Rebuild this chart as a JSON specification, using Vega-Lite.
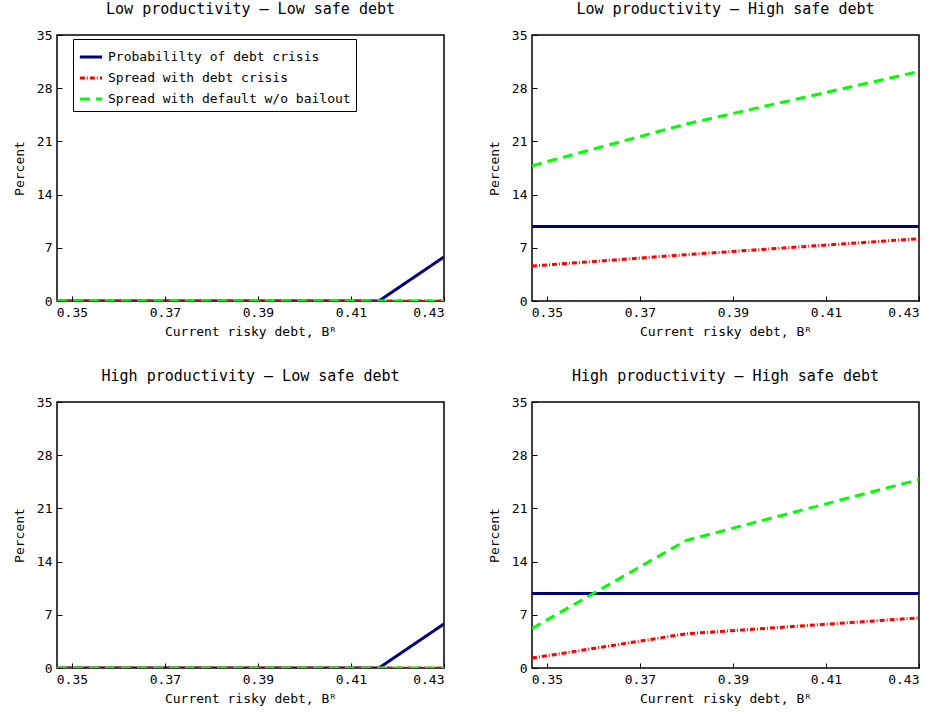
{
"$schema":"https://vega.github.io/schema/vega-lite/v6.json",
"padding":{"left":12,"top":1,"right":5,"bottom":5},
"background":"white",
"config":{"font":"DejaVu Sans Mono","view":{"stroke":"black","strokeWidth":1.5},
 "title":{"fontSize":15,"fontWeight":"normal","font":"DejaVu Sans Mono","offset":12},
 "axis":{"labelFont":"DejaVu Sans Mono","titleFont":"DejaVu Sans Mono","labelFontSize":13,"titleFontSize":13,"titleFontWeight":"normal","grid":false,"domain":false,"tickColor":"black","ticks":true,"tickSize":-5,"labelPadding":10,"labelColor":"black","titleColor":"black"}},
"datasets":{"d":[
{"p":"LL","s":"Probabililty of debt crisis","x":0.3468,"y":0},{"p":"LL","s":"Probabililty of debt crisis","x":0.416,"y":0},{"p":"LL","s":"Probabililty of debt crisis","x":0.43,"y":5.8},
{"p":"LL","s":"Spread with debt crisis","x":0.3468,"y":0},{"p":"LL","s":"Spread with debt crisis","x":0.43,"y":0},
{"p":"LL","s":"Spread with default w/o bailout","x":0.3468,"y":0},{"p":"LL","s":"Spread with default w/o bailout","x":0.43,"y":0},
{"p":"LH","s":"Probabililty of debt crisis","x":0.3468,"y":9.8},{"p":"LH","s":"Probabililty of debt crisis","x":0.43,"y":9.8},
{"p":"LH","s":"Spread with debt crisis","x":0.3468,"y":4.6},{"p":"LH","s":"Spread with debt crisis","x":0.38,"y":6.1},{"p":"LH","s":"Spread with debt crisis","x":0.43,"y":8.2},
{"p":"LH","s":"Spread with default w/o bailout","x":0.3468,"y":17.8},{"p":"LH","s":"Spread with default w/o bailout","x":0.38,"y":23.3},{"p":"LH","s":"Spread with default w/o bailout","x":0.43,"y":30.2},
{"p":"HL","s":"Probabililty of debt crisis","x":0.3468,"y":0},{"p":"HL","s":"Probabililty of debt crisis","x":0.416,"y":0},{"p":"HL","s":"Probabililty of debt crisis","x":0.43,"y":5.8},
{"p":"HL","s":"Spread with debt crisis","x":0.3468,"y":0},{"p":"HL","s":"Spread with debt crisis","x":0.43,"y":0},
{"p":"HL","s":"Spread with default w/o bailout","x":0.3468,"y":0},{"p":"HL","s":"Spread with default w/o bailout","x":0.43,"y":0},
{"p":"HH","s":"Probabililty of debt crisis","x":0.3468,"y":9.8},{"p":"HH","s":"Probabililty of debt crisis","x":0.43,"y":9.8},
{"p":"HH","s":"Spread with debt crisis","x":0.3468,"y":1.3},{"p":"HH","s":"Spread with debt crisis","x":0.38,"y":4.5},{"p":"HH","s":"Spread with debt crisis","x":0.43,"y":6.6},
{"p":"HH","s":"Spread with default w/o bailout","x":0.3468,"y":5.2},{"p":"HH","s":"Spread with default w/o bailout","x":0.38,"y":16.8},{"p":"HH","s":"Spread with default w/o bailout","x":0.43,"y":24.8}
]},
"spacing":29,
"vconcat":[
{"spacing":41,"hconcat":[
 {"title":"Low productivity – Low safe debt","width":387,"height":266,"data":{"name":"d"},"transform":[{"filter":"datum.p==='LL'"}],"mark":{"type":"line","strokeWidth":3,"clip":true},
  "encoding":{"x":{"field":"x","type":"quantitative","scale":{"domain":[0.3468,0.43],"nice":false,"zero":false},"axis":{"values":[0.35,0.37,0.39,0.41,0.43],"format":".2f","title":"Current risky debt, Bᴿ","titlePadding":6}},
   "y":{"field":"y","type":"quantitative","scale":{"domain":[0,35],"nice":false},"axis":{"values":[0,7,14,21,28,35],"title":"Percent","titlePadding":10}},
   "color":{"field":"s","type":"nominal","scale":{"domain":["Probabililty of debt crisis","Spread with debt crisis","Spread with default w/o bailout"],"range":["#00007f","#ff0000","#00ff00"]},"legend":{"title":null,"orient":"none","legendX":16,"legendY":4,"labelFontSize":13,"labelLimit":400,"labelFont":"DejaVu Sans Mono","labelColor":"black","symbolType":"stroke","symbolStrokeWidth":3,"symbolSize":500,"strokeColor":"black","fillColor":"white","padding":5,"rowPadding":1}},
   "strokeDash":{"field":"s","type":"nominal","scale":{"domain":["Probabililty of debt crisis","Spread with debt crisis","Spread with default w/o bailout"],"range":[[1,0],[5,2,1,2],[10,6]]},"legend":null}}},
 {"title":"Low productivity – High safe debt","width":387,"height":266,"data":{"name":"d"},"transform":[{"filter":"datum.p==='LH'"}],"mark":{"type":"line","strokeWidth":3,"clip":true},
  "encoding":{"x":{"field":"x","type":"quantitative","scale":{"domain":[0.3468,0.43],"nice":false,"zero":false},"axis":{"values":[0.35,0.37,0.39,0.41,0.43],"format":".2f","title":"Current risky debt, Bᴿ","titlePadding":6}},
   "y":{"field":"y","type":"quantitative","scale":{"domain":[0,35],"nice":false},"axis":{"values":[0,7,14,21,28,35],"title":"Percent","titlePadding":10}},
   "color":{"field":"s","type":"nominal"},"strokeDash":{"field":"s","type":"nominal","legend":null}}}
]},
{"spacing":41,"hconcat":[
 {"title":"High productivity – Low safe debt","width":387,"height":266,"data":{"name":"d"},"transform":[{"filter":"datum.p==='HL'"}],"mark":{"type":"line","strokeWidth":3,"clip":true},
  "encoding":{"x":{"field":"x","type":"quantitative","scale":{"domain":[0.3468,0.43],"nice":false,"zero":false},"axis":{"values":[0.35,0.37,0.39,0.41,0.43],"format":".2f","title":"Current risky debt, Bᴿ","titlePadding":6}},
   "y":{"field":"y","type":"quantitative","scale":{"domain":[0,35],"nice":false},"axis":{"values":[0,7,14,21,28,35],"title":"Percent","titlePadding":10}},
   "color":{"field":"s","type":"nominal"},"strokeDash":{"field":"s","type":"nominal","legend":null}}},
 {"title":"High productivity – High safe debt","width":387,"height":266,"data":{"name":"d"},"transform":[{"filter":"datum.p==='HH'"}],"mark":{"type":"line","strokeWidth":3,"clip":true},
  "encoding":{"x":{"field":"x","type":"quantitative","scale":{"domain":[0.3468,0.43],"nice":false,"zero":false},"axis":{"values":[0.35,0.37,0.39,0.41,0.43],"format":".2f","title":"Current risky debt, Bᴿ","titlePadding":6}},
   "y":{"field":"y","type":"quantitative","scale":{"domain":[0,35],"nice":false},"axis":{"values":[0,7,14,21,28,35],"title":"Percent","titlePadding":10}},
   "color":{"field":"s","type":"nominal"},"strokeDash":{"field":"s","type":"nominal","legend":null}}}
]}
]
}
